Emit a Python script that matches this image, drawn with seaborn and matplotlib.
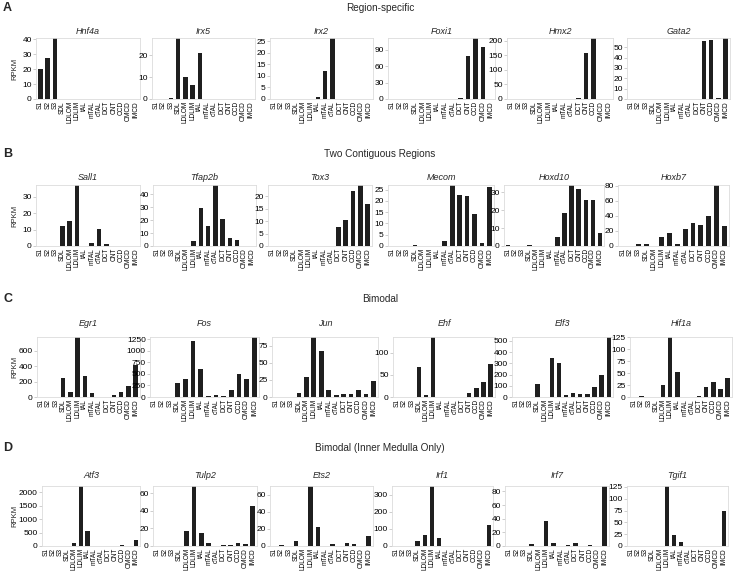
import numpy as np
import matplotlib
matplotlib.use('Agg')
import matplotlib.pyplot as plt
import seaborn as sns
from matplotlib.ticker import MultipleLocator

sns.set_style('white')
plt.rcParams['font.family'] = ['Liberation Sans', 'DejaVu Sans']

# segments along the nephron
cats = ['S1', 'S2', 'S3', 'SDL', 'LDLOM', 'LDLIM', 'tAL', 'mTAL', 'cTAL',
        'DCT', 'CNT', 'CCD', 'OMCD', 'IMCD']

# A - region-specific
hnf4a = [20, 27.5, 41, 0, 0, 0, 0, 0, 0, 0, 0, 0, 0, 0]
irx5 = [0, 0, 0.3, 28, 10, 6.5, 21, 0, 0, 0, 0, 0, 0, 0]
irx2 = [0, 0, 0, 0, 0, 0, 1, 12, 26.5, 0.2, 0, 0, 0, 0]
foxi1 = [0, 0, 0, 0, 0, 0, 0, 0, 0, 1, 79, 112, 95, 0]
hmx2 = [0, 0, 0, 0, 0, 0, 0, 0, 0, 2, 160, 210, 1, 0]
gata2 = [0, 0, 0, 0, 0, 0, 0, 0, 0, 0.3, 56, 57, 1, 59]

# B - two contiguous regions
sall1 = [0, 0, 0, 12, 15, 37, 0.3, 2, 10.5, 1, 0, 0, 0, 0]
tfap2b = [0, 0, 0, 0, 0, 4, 29, 15.5, 47, 20.5, 6, 5, 0, 0]
tox3 = [0.1, 0, 0, 0, 0, 0, 0, 0, 0.2, 7.5, 10.5, 22, 24.5, 17]
mecom = [0, 0, 0, 0.3, 0, 0, 0.2, 2, 27, 22.5, 22, 14, 1.5, 26]
hoxd10 = [0.3, 0, 0, 0.3, 0, 0, 0, 5, 18.5, 34, 32, 25.5, 25.5, 7]
hoxb7 = [0.5, 0.5, 2.5, 3, 0, 12, 17, 3, 23, 30, 28.5, 40, 81, 27]

# C - bimodal
egr1 = [0, 0, 0, 245, 70, 780, 270, 50, 5, 3, 30, 60, 140, 410]
fos = [0, 0, 5, 300, 380, 1210, 610, 30, 50, 30, 150, 490, 390, 1300]
jun = [0.5, 0.5, 0.5, 6, 30, 88, 68, 10, 3, 4, 4, 11, 4, 24]
ehf = [0, 0, 0, 68, 5, 135, 1, 0.5, 0.5, 0.5, 10, 20, 33, 75]
elf3 = [0, 0, 2, 115, 3, 350, 305, 20, 40, 25, 25, 85, 195, 535]
hif1a = [0.5, 2, 0.5, 1, 25, 125, 53, 0.5, 0.5, 2, 20, 32, 17, 40]

# D - bimodal (inner medulla only)
atf3 = [0, 0, 0, 0, 130, 2230, 550, 5, 5, 5, 5, 30, 15, 230]
tulp2 = [0, 0, 0, 0.5, 17, 68, 15, 3, 0.5, 1, 1, 3, 2.5, 45]
ets2 = [0.5, 1, 0, 6, 0.5, 70, 22, 0.3, 2.5, 0.3, 3, 2.5, 0.3, 12]
irf1 = [0, 0, 0, 28, 62, 350, 45, 0.5, 0.3, 0, 0, 0, 0, 120]
irf7 = [0, 0, 0, 2.5, 0, 36, 4, 0, 1, 4, 0, 1, 0, 88]
tgif1 = [0, 0, 0, 1, 0, 127, 23, 8, 1, 0, 0, 0, 0, 75]

row_titles = ['Region-specific', 'Two Contiguous Regions', 'Bimodal',
              'Bimodal (Inner Medulla Only)']
row_letters = ['A', 'B', 'C', 'D']
row_genes = [
    [('Hnf4a', hnf4a, 10), ('Irx5', irx5, 10), ('Irx2', irx2, 5),
     ('Foxi1', foxi1, 30), ('Hmx2', hmx2, 50), ('Gata2', gata2, 10)],
    [('Sall1', sall1, 10), ('Tfap2b', tfap2b, 10), ('Tox3', tox3, 5),
     ('Mecom', mecom, 5), ('Hoxd10', hoxd10, 10), ('Hoxb7', hoxb7, 20)],
    [('Egr1', egr1, 200), ('Fos', fos, 250), ('Jun', jun, 25),
     ('Ehf', ehf, 50), ('Elf3', elf3, 100), ('Hif1a', hif1a, 25)],
    [('Atf3', atf3, 500), ('Tulp2', tulp2, 20), ('Ets2', ets2, 20),
     ('Irf1', irf1, 100), ('Irf7', irf7, 20), ('Tgif1', tgif1, 25)],
]

# layout in pixels
W, H = 733, 579
lefts = [[36, 152, 270, 388, 507, 627],
         [36, 153, 268, 388, 504, 618],
         [37, 150, 272, 393, 512, 630],
         [42, 153, 270, 392, 505, 627]]
rights = [[140, 255, 373, 495, 613, 730],
          [140, 256, 372, 494, 604, 729],
          [140, 259, 378, 495, 613, 732],
          [140, 257, 373, 493, 609, 728]]
tops = [38, 185, 337, 486]
bots = [99, 246, 397, 546]
gene_y = [32, 177, 323, 475]
sect_y = [8, 154, 299, 448]

fig = plt.figure(figsize=(W / 100, H / 100), dpi=100)

for r in range(4):
    fig.text(380 / W, 1 - sect_y[r] / H, row_titles[r], ha='center', va='center', fontsize=7.2)
    fig.text(3 / W, 1 - sect_y[r] / H, row_letters[r], ha='left', va='center',
             fontsize=9, fontweight='bold')
    fig.text(15 / W, 1 - (tops[r] + bots[r]) / 2 / H, 'RPKM', rotation=90,
             ha='center', va='center', fontsize=5.5)
    for c, (gene, vals, step) in enumerate(row_genes[r]):
        l, rr = lefts[r][c], rights[r][c]
        ax = fig.add_axes([l / W, 1 - bots[r] / H, (rr - l) / W, (bots[r] - tops[r]) / H])
        sns.barplot(x=cats, y=vals, color='#1f1f1f', saturation=1, width=0.62,
                    linewidth=0, ax=ax)
        ax.set_xlim(-0.6, 13.6)
        ax.set_ylim(0, max(vals))
        ax.yaxis.set_major_locator(MultipleLocator(step))
        ax.set_xlabel('')
        ax.set_ylabel('')
        for s in ax.spines.values():
            s.set_color('#dcdcdc')
            s.set_linewidth(0.6)
        ax.tick_params(axis='y', length=2, width=0.5, color='#bbbbbb', pad=1,
                       labelsize=6, labelcolor='black', left=True)
        ax.tick_params(axis='x', length=0, pad=1.5, labelsize=4.7,
                       labelcolor='black', rotation=90)
        fig.text((l + rr) / 2 / W, 1 - gene_y[r] / H, gene, ha='center', va='center',
                 fontsize=6.5, style='italic')

fig.savefig('out.png', dpi=100)
